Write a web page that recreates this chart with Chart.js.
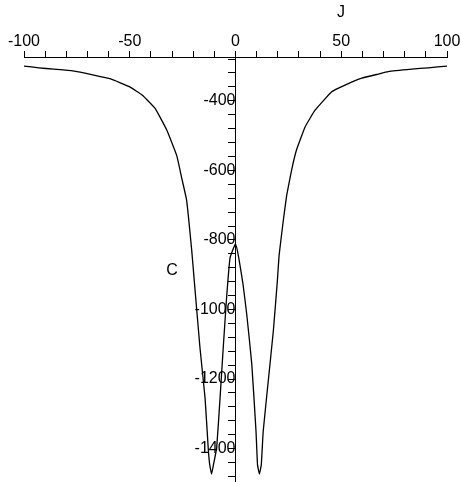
<!DOCTYPE html>
<html>
<head>
<meta charset="utf-8">
<script src="https://cdn.jsdelivr.net/npm/chart.js@4/dist/chart.umd.min.js"></script>
<style>
  html, body { margin: 0; padding: 0; background: #fff; }
  #wrap { width: 461px; height: 482px; }
</style>
</head>
<body>
<div id="wrap"><canvas id="chart"></canvas></div>
<script>
// J values and C values
var jValues = [-100, -93, -86, -77, -67, -59, -50, -44, -38, -32.5, -27.8, -25.5, -23.1, -20.7, -19.5,
  -16.8, -14.4, -12.9, -12.2, -11.3, -10.4, -8.9, -7.3, -5.8, -4.2, -2.6, 0,
  1.5, 3.5, 5.3, 7.7, 9.7, 10.4, 11.3, 12.2, 13.1, 15.5, 17.9, 19.8, 20.6, 22.6, 24.2, 26.6, 28.9,
  32.9, 37.6, 45.5, 51.8, 59.7, 67.5, 72.2, 83.3, 91.2, 100];
var cValues = [-300, -305, -309, -314, -326, -337, -360, -384, -422, -484, -557, -620, -686, -830, -917,
  -1110, -1254, -1398, -1446, -1473, -1446, -1398, -1254, -1110, -965, -852, -811,
  -850, -925, -1013, -1157, -1350, -1446, -1473, -1446, -1350, -1205, -1061, -917, -845, -744, -672, -597, -540,
  -475, -427, -374, -355, -335, -323, -316, -309, -305, -300];
var xTickStep = 10, xLabelEvery = 50;
var yTickStep = 40, yLabelEvery = 200;
var xMin = -100, xMax = 100, yMin = -1496, yMax = -274;

var points = jValues.map(function (j, i) { return { x: j, y: cValues[i] }; });
var font = { family: "'Liberation Sans', Arial, sans-serif", size: 16 };

var axisTitles = {
  id: "axisTitles",
  afterDraw: function (chart) {
    var ctx = chart.ctx;
    ctx.save();
    ctx.fillStyle = "#000";
    ctx.font = "16px 'Liberation Sans', Arial, sans-serif";
    ctx.textAlign = "center";
    ctx.textBaseline = "middle";
    ctx.fillText("J", 341, 13);
    ctx.fillText("C", 172, 271);
    ctx.restore();
  },
};

new Chart(document.getElementById("chart"), {
  type: "scatter",
  data: {
    datasets: [{
      data: points,
      showLine: true,
      borderColor: "#000",
      borderWidth: 1.3,
      pointRadius: 0,
      tension: 0.1,
      fill: false,
    }],
  },
  options: {
    responsive: true,
    maintainAspectRatio: false,
    animation: false,
    layout: { padding: { left: 24, right: 14, top: 0, bottom: 0 } },
    plugins: { legend: { display: false }, tooltip: { enabled: false } },
    scales: {
      x: {
        type: "linear",
        position: "top",
        min: xMin,
        max: xMax,
        afterFit: function (s) { s.height = 57; s.paddingLeft = 0; s.paddingRight = 0; },
        border: { color: "#000", width: 1 },
        grid: { drawOnChartArea: false, color: "#000", tickLength: 6 },
        ticks: {
          stepSize: xTickStep,
          autoSkip: false,
          maxRotation: 0,
          padding: 0,
          color: "#000",
          font: font,
          callback: function (v) { return Math.round(v) % xLabelEvery === 0 ? v : ""; },
        },
      },
      y: {
        type: "linear",
        position: { x: 0 },
        min: yMin,
        max: yMax,
        afterFit: function (s) { s.paddingTop = 0; s.paddingBottom = 0; },
        border: { color: "#000", width: 1 },
        grid: { drawOnChartArea: false, color: "#000", tickLength: 7 },
        ticks: {
          stepSize: yTickStep,
          includeBounds: false,
          autoSkip: false,
          padding: 3,
          color: "#000",
          font: font,
          callback: function (v) {
            var r = Math.round(v);
            return r % yLabelEvery === 0 && r <= -400 ? r : "";
          },
        },
      },
    },
  },
  plugins: [axisTitles],
});
</script>
</body>
</html>
